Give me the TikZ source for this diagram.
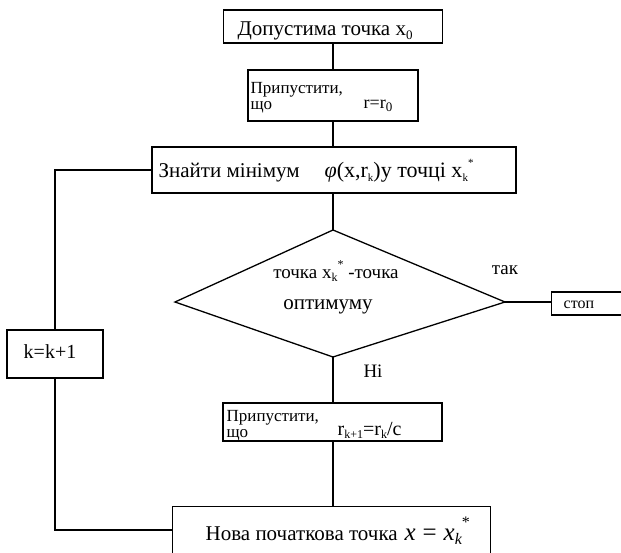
\documentclass[tikz,border=0pt]{standalone}
\usepackage{fontspec}
\setmainfont{Liberation Serif}
\newcommand{\fs}[1]{\fontsize{#1}{#1}\selectfont}
\newcommand{\lo}[2]{\raisebox{-0.35ex}{\fs{#1}#2}}
\newcommand{\hi}[2]{\raisebox{1.1ex}{\fs{#1}#2}}
\begin{document}
\begin{tikzpicture}[x=1pt,y=-1pt,line width=1.3pt,
  box/.style={draw,rectangle,inner sep=0pt},
  txt/.style={inner sep=0pt,font=\fs{21}},
  sml/.style={inner sep=0pt,font=\fontsize{17}{16}\selectfont,align=left}]
\useasboundingbox (0,0) rectangle (621,553);
\clip (0,0) rectangle (621,553);
% boxes
\node[box,minimum width=219pt,minimum height=33pt] (b1) at (333,26.5) {};
\node[box,minimum width=170pt,minimum height=51pt] (b2) at (333,95.5) {};
\node[box,minimum width=364pt,minimum height=46pt] (b3) at (334,170) {};
\coordinate (dt) at (333,230);
\coordinate (dl) at (175,302);
\coordinate (dr) at (505,302);
\coordinate (db) at (333,357);
\draw (dt) -- (dr) -- (db) -- (dl) -- cycle;
\node[box,minimum width=90pt,minimum height=23pt,anchor=west] (stop) at (551,303.5) {};
\node[box,minimum width=96pt,minimum height=48pt] (kb) at (55,354) {};
\node[box,minimum width=219pt,minimum height=38pt] (b4) at (332.5,422) {};
\node[box,minimum width=318pt,minimum height=70pt,anchor=north west] (b5) at (172,506) {};
% texts
\node[txt,anchor=base west] (t1) at (237,36) {Допустима точка x\lo{13}{0}};
\node[sml,anchor=west] (t2a) at (250,98) {Припустити,\\що};
\node[inner sep=0pt,font=\fs{18},anchor=base west] (t2b) at (363,109) {r=r\lo{13}{0}};
\node[txt,anchor=base west] (t3a) at (158,178) {Знайти мінімум};
\node[inner sep=0pt,font=\fs{22},anchor=base west] (t3b) at (324,178) {\textit{φ}(x,r\lo{11}{k})у точці x\lo{11}{k}\hi{11}{*}};
\node[inner sep=0pt,font=\fs{19}] (t4a) at (336,271) {точка x\lo{12}{k}\hi{12}{*} -точка};
\node[txt] (t4b) at (328,307) {оптимуму};
\node[inner sep=0pt,font=\fs{19}] (tak) at (505,270) {так};
\node[inner sep=0pt,font=\fs{19}] (ni) at (373,371) {Ні};
\node[inner sep=0pt,font=\fs{16},anchor=west] (tstop) at (563,305) {стоп};
\node[inner sep=0pt,font=\fs{20}] (tk) at (50,352) {k=k+1};
\node[sml,anchor=west] (t6a) at (226,426) {Припустити,\\що};
\node[inner sep=0pt,font=\fs{20},anchor=base west] (t6b) at (337,435) {r\lo{12}{k+1}=r\lo{12}{k}/c};
\node[txt,anchor=base west] (t7a) at (205,540) {Нова початкова точка};
\node[inner sep=0pt,font=\fs{25},anchor=base west] (t7b) at (404,540) {\textit{x}\;=\;\textit{x\lo{16}{k}}\hi{16}{*}};
% connectors
\draw (b1.south) -- (b2.north);
\draw (b2.south) -- (b3.north -| b2.south);
\draw (b3.south -| dt) -- (dt);
\draw (dr) -- (stop.west |- dr);
\draw (db) -- (b4.north -| db);
\draw (b4.south -| db) -- (b5.north -| db);
\draw (b3.west) -| (kb.north);
\draw (kb.south) |- ([yshift=-24pt]b5.north west);
\end{tikzpicture}
\end{document}
